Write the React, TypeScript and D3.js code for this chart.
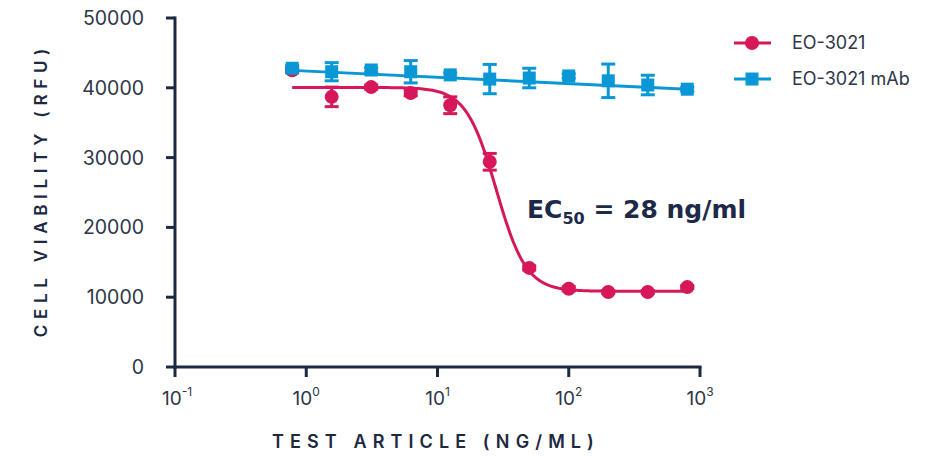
import * as React from 'react'
import * as d3 from 'd3'

// concentrations (ng/ml), two-fold series
const doses = [0.78125, 1.5625, 3.125, 6.25, 12.5, 25, 50, 100, 200, 400, 800]

// EO-3021 (ADC)
const adcMean = [42500, 38700, 40100, 39250, 37500, 29400, 14200, 11200, 10750, 10750, 11450]
const adcErr = [300, 1400, 300, 400, 1200, 1200, 300, 300, 200, 200, 200]

// EO-3021 mAb
const mabMean = [42800, 42300, 42550, 42300, 41850, 41250, 41400, 41700, 41000, 40400, 39800]
const mabErr = [400, 1300, 300, 1600, 300, 2100, 1400, 300, 2400, 1400, 300]

// 4PL fit for EO-3021
const fitTop = 40050
const fitBottom = 10850
const fitEC50 = 28
const fitHill = 3.8
// linear-in-log fit for mAb
const mabFitA = 42400
const mabFitB = -900

const yTicks = [0, 10000, 20000, 30000, 40000, 50000]
const xTickExp = [-1, 0, 1, 2, 3]

const RED = '#D6185B'
const BLUE = '#0A97D6'
const AXIS = '#1D2841'
const TEXT = '#2E3648'

export default function App() {
  const x = d3.scaleLog().domain([0.1, 1000]).range([175, 700])
  const y = d3.scaleLinear().domain([0, 50000]).range([367, 18])

  const fitPts = d3.range(0, 201).map(i => {
    const lx = Math.log10(doses[0]) + (i / 200) * (Math.log10(800) - Math.log10(doses[0]))
    const c = Math.pow(10, lx)
    return [c, fitBottom + (fitTop - fitBottom) / (1 + Math.pow(c / fitEC50, fitHill))] as [number, number]
  })
  const mabFit = [doses[0], 800].map(c => [c, mabFitA + mabFitB * Math.log10(c)] as [number, number])
  const line = d3.line<[number, number]>().x(d => x(d[0])).y(d => y(d[1]))

  const errBar = (c: number, m: number, e: number, color: string, k: string) => {
    const cx = x(c)
    return (
      <g key={k} stroke={color} strokeWidth={3}>
        <line x1={cx} x2={cx} y1={y(m - e)} y2={y(m + e)} />
        <line x1={cx - 7} x2={cx + 7} y1={y(m - e)} y2={y(m - e)} />
        <line x1={cx - 7} x2={cx + 7} y1={y(m + e)} y2={y(m + e)} />
      </g>
    )
  }

  return (
    <svg width={938} height={456} style={{ position: 'absolute', left: 0, top: 0, background: '#fff' }}
      fontFamily="Inter, 'Open Sans', sans-serif">
      {/* axes */}
      <line x1={175} x2={175} y1={16.5} y2={368.5} stroke={AXIS} strokeWidth={3} />
      <line x1={173.5} x2={701.5} y1={367} y2={367} stroke={AXIS} strokeWidth={3} />
      {yTicks.map(t => (
        <g key={t}>
          <line x1={166} x2={175} y1={y(t)} y2={y(t)} stroke={AXIS} strokeWidth={3} />
          <text x={144} y={y(t)} dy="0.36em" textAnchor="end" fontSize={19.5} fill={TEXT}>{t}</text>
        </g>
      ))}
      {xTickExp.map(e => (
        <g key={e}>
          <line x1={x(Math.pow(10, e))} x2={x(Math.pow(10, e))} y1={367} y2={377} stroke={AXIS} strokeWidth={3} />
          <text x={x(Math.pow(10, e)) + (e < 0 ? 2 : 0)} y={405} textAnchor="middle" fontSize={19} fill={TEXT}>
            10<tspan fontSize={12} dy={-9}>{e}</tspan>
          </text>
        </g>
      ))}
      <text x={436} y={448} textAnchor="middle" fontSize={18} fontWeight={600} letterSpacing={6.1} fill={AXIS}>
        TEST ARTICLE (NG/ML)
      </text>
      <text transform="translate(47,190) rotate(-90)" textAnchor="middle" fontSize={17} fontWeight={600}
        letterSpacing={5.7} fill={AXIS}>
        CELL VIABILITY (RFU)
      </text>

      {/* EO-3021 */}
      <path d={line(fitPts) || ''} fill="none" stroke={RED} strokeWidth={3} />
      {doses.map((c, i) => errBar(c, adcMean[i], adcErr[i], RED, 'ae' + i))}
      {doses.map((c, i) => <circle key={'a' + i} cx={x(c)} cy={y(adcMean[i])} r={7} fill={RED} />)}

      {/* EO-3021 mAb */}
      <path d={line(mabFit) || ''} fill="none" stroke={BLUE} strokeWidth={3} />
      {doses.map((c, i) => errBar(c, mabMean[i], mabErr[i], BLUE, 'me' + i))}
      {doses.map((c, i) => (
        <rect key={'m' + i} x={x(c) - 6.5} y={y(mabMean[i]) - 6.5} width={13} height={13} fill={BLUE} />
      ))}

      {/* EC50 annotation */}
      <text x={527} y={218} fontSize={25} fontWeight={700} fill="#1C2A48" fontFamily="'DejaVu Sans', Verdana, sans-serif">
        EC<tspan fontSize={16} dy={6}>50</tspan><tspan dy={-6}> = 28 ng/ml</tspan>
      </text>

      {/* legend */}
      <line x1={734} x2={771} y1={43} y2={43} stroke={RED} strokeWidth={3} />
      <circle cx={752} cy={43} r={7} fill={RED} />
      <text x={792} y={43} dy="0.36em" fontSize={18} fill={TEXT}>EO-3021</text>
      <line x1={734} x2={771} y1={79} y2={79} stroke={BLUE} strokeWidth={3} />
      <rect x={745.5} y={72.5} width={13} height={13} fill={BLUE} />
      <text x={792} y={79} dy="0.36em" fontSize={18} fill={TEXT}>EO-3021 mAb</text>
    </svg>
  )
}
